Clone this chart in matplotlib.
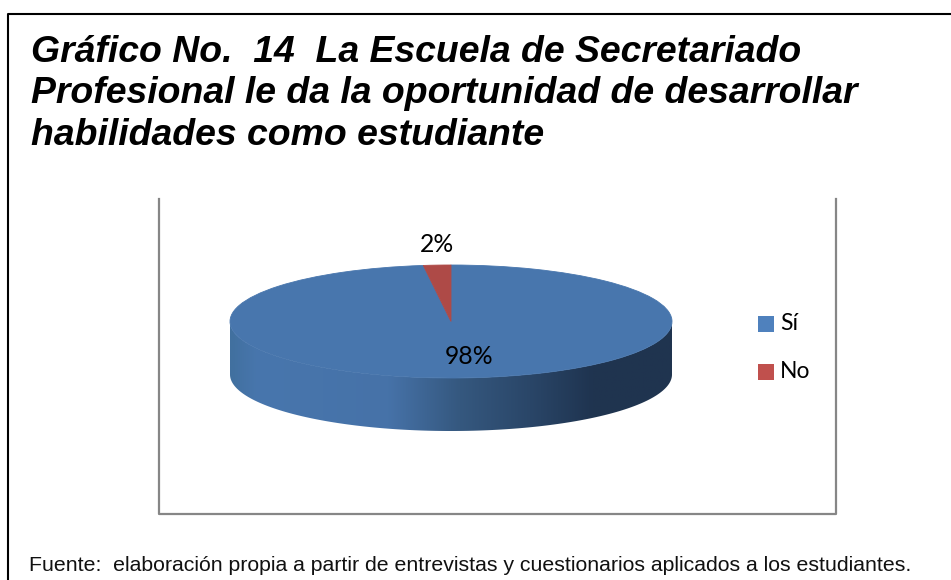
import matplotlib
matplotlib.use('Agg')
import matplotlib.pyplot as plt
from matplotlib.colors import LinearSegmentedColormap
from matplotlib.patches import Rectangle, Polygon
from matplotlib.lines import Line2D
import numpy as np

W, H = 951, 580

title_lines = ["Gráfico No.  14  La Escuela de Secretariado",
               "Profesional le da la oportunidad de desarrollar",
               "habilidades como estudiante"]
source = "Fuente:  elaboración propia a partir de entrevistas y cuestionarios aplicados a los estudiantes."
labels = ["Sí", "No"]
values = [98, 2]
pct_labels = ["98%", "2%"]
colors = ["#4876AD", "#AE4A47"]
legend_colors = ["#4F81BD", "#C0504D"]
side_colors = ["#41709F", "#4876AD", "#4672A8", "#35587F", "#2A4668", "#1F3450", "#20344F"]
side_stops = [0.0, 0.06, 0.36, 0.52, 0.68, 0.82, 1.0]


def px_axes(fig, left, top, right, bottom):
    return fig.add_axes([left / W, 1 - bottom / H, (right - left) / W, (bottom - top) / H])


fig = plt.figure(figsize=(W / 100, H / 100), dpi=100)

# background layer in pixel coordinates
bg = fig.add_axes([0, 0, 1, 1])
bg.set_xlim(0, W)
bg.set_ylim(H, 0)
bg.axis('off')

# outer box: only left and top show, the rest is cut off by the crop
bg.add_line(Line2D([8, 8, W], [H, 14, 14], color='black', linewidth=1.5))
gray = '#868686'
bg.add_line(Line2D([159, 159, 836, 836], [199, 514, 514, 199], color=gray, linewidth=1.6))

for i, line in enumerate(title_lines):
    bg.text(31, 62 + i * 41.3, line, fontfamily='Liberation Sans', fontweight='bold',
            fontstyle='italic', fontsize=26.9, color='black', va='baseline', ha='left')
bg.text(29, 571, source, fontfamily='Liberation Sans', fontsize=15.35, color='#111111',
        va='baseline', ha='left')

# pie
depth = 53 / 56.5
ax = px_axes(fig, 230, 265, 672, 431)
ax.patch.set_alpha(0)
theta = np.linspace(np.pi, 2 * np.pi, 200)
xs = np.cos(theta)
ys = np.sin(theta)
outline = np.vstack([np.column_stack([xs, ys]),
                     np.column_stack([xs[::-1], ys[::-1] - depth])])
cmap = LinearSegmentedColormap.from_list('side', list(zip(side_stops, side_colors)))
side = ax.imshow(np.linspace(0, 1, 256).reshape(1, -1), cmap=cmap, aspect='auto',
                 extent=[-1, 1, -1 - depth, 1], zorder=1)
clip = Polygon(outline, closed=True, transform=ax.transData, facecolor='none', edgecolor='none')
ax.add_patch(clip)
side.set_clip_path(clip)

wedges, _ = ax.pie(values, colors=colors, startangle=90, counterclock=False, radius=1,
                   center=(0, 0), frame=True, wedgeprops={'linewidth': 0, 'zorder': 2})
for w, c in zip(wedges, colors):
    w.set_edgecolor(c)
    w.set_linewidth(0.6)
ax.set_aspect('auto')
ax.set_xlim(-1, 1)
ax.set_ylim(-1 - depth, 1)
ax.axis('off')

ax.text(0.08, -0.62, pct_labels[0], fontfamily='Lato', fontsize=17.8, color='black',
        ha='center', va='center', zorder=3)
ax.text(-0.065, 1.37, pct_labels[1], fontfamily='Lato', fontsize=17.8, color='black',
        ha='center', va='center', zorder=3, clip_on=False)

# legend
for i, (lab, col) in enumerate(zip(labels, legend_colors)):
    y = 323.5 + i * 48.5
    bg.add_patch(Rectangle((758, y - 8), 16, 16, facecolor=col, edgecolor='none'))
    bg.text(780, y, lab, fontfamily='Lato', fontsize=16.5, color='black', va='center', ha='left')

fig.savefig('out.png', dpi=100)
